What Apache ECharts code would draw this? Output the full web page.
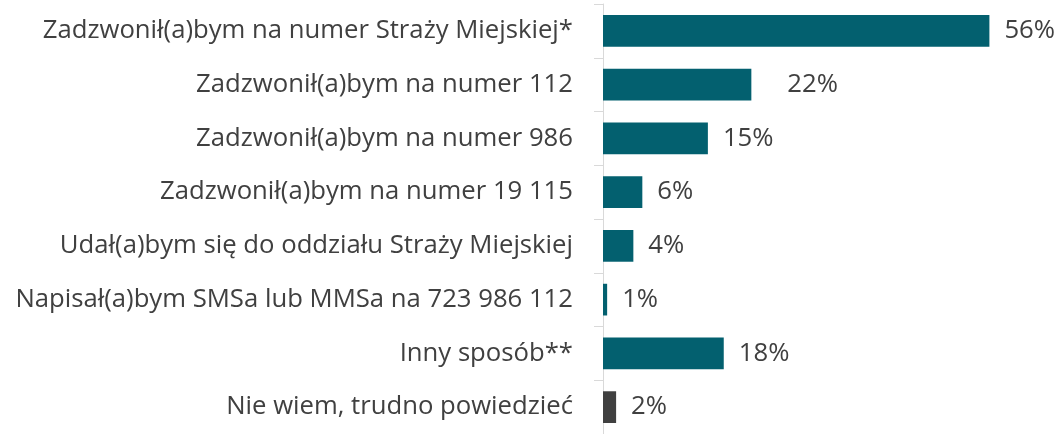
<!DOCTYPE html>
<html><head><meta charset="utf-8">
<script src="https://cdn.jsdelivr.net/npm/echarts@6/dist/echarts.min.js"></script>
<style>html,body{margin:0;padding:0;background:#fff}#c{width:1064px;height:434px}</style>
</head><body><div id="c"></div>
<script>
const categories = [
  "Zadzwonił(a)bym na numer Straży Miejskiej*",
  "Zadzwonił(a)bym na numer 112",
  "Zadzwonił(a)bym na numer 986",
  "Zadzwonił(a)bym na numer 19 115",
  "Udał(a)bym się do oddziału Straży Miejskiej",
  "Napisał(a)bym SMSa lub MMSa na 723 986 112",
  "Inny sposób**",
  "Nie wiem, trudno powiedzieć"
];
// values; labels show rounded percentages
const values = [56.0, 21.5, 15.2, 5.7, 4.4, 0.6, 17.5, 1.9];

const TEAL = "#03606F", GRAY = "#404040", TEXT = "#404040";
const FONT = "'Open Sans', sans-serif";
const data = values.map((v, i) => ({
  value: v,
  itemStyle: { color: i === values.length - 1 ? GRAY : TEAL },
  label: { distance: i === 1 ? 36 : 15 }
}));

const chart = echarts.init(document.getElementById('c'), null, { renderer: 'canvas' });
chart.setOption({
  animation: false,
  grid: { left: 603, right: 47, top: 4, bottom: -8, containLabel: false },
  xAxis: { type: 'value', min: 0, max: 60, show: false },
  yAxis: {
    type: 'category', data: categories, inverse: true,
    axisLine: { lineStyle: { color: '#D9D9D9', width: 1 } },
    axisTick: { show: true, length: 9, lineStyle: { color: '#D9D9D9' } },
    axisLabel: { color: TEXT, fontFamily: FONT, fontSize: 25.7, margin: 30 }
  },
  series: [{
    type: 'bar', data: data, barCategoryGap: '41%',
    label: { show: true, position: 'right', formatter: p => Math.round(p.value) + '%',
             color: TEXT, fontFamily: FONT, fontSize: 25.7 }
  }]
});
</script></body></html>
